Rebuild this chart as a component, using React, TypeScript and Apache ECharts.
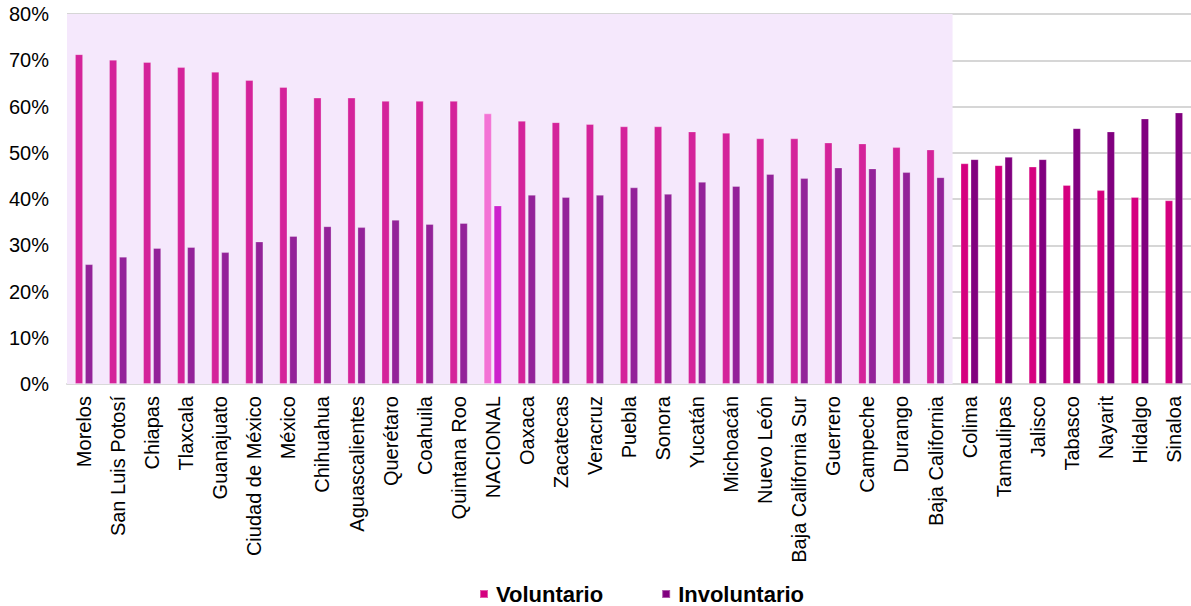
import React, { useEffect, useRef } from "react";
import * as echarts from "echarts";

const categories = [
  "Morelos", "San Luis Potosí", "Chiapas", "Tlaxcala", "Guanajuato", "Ciudad de México",
  "México", "Chihuahua", "Aguascalientes", "Querétaro", "Coahuila", "Quintana Roo",
  "NACIONAL", "Oaxaca", "Zacatecas", "Veracruz", "Puebla", "Sonora", "Yucatán",
  "Michoacán", "Nuevo León", "Baja California Sur", "Guerrero", "Campeche", "Durango",
  "Baja California", "Colima", "Tamaulipas", "Jalisco", "Tabasco", "Nayarit", "Hidalgo", "Sinaloa",
];

const voluntario = [
  71.3, 70.1, 69.6, 68.5, 67.5, 65.7, 64.2, 61.9, 61.9, 61.2, 61.2, 61.2,
  58.5, 56.9, 56.6, 56.2, 55.7, 55.7, 54.6, 54.3, 53.1, 53.1, 52.2, 52.0, 51.2,
  50.7, 47.7, 47.3, 47.0, 43.0, 41.9, 40.4, 39.7,
];

const involuntario = [
  25.9, 27.5, 29.4, 29.6, 28.5, 30.8, 32.0, 34.1, 33.9, 35.5, 34.6, 34.8,
  38.6, 40.9, 40.4, 40.9, 42.5, 41.1, 43.7, 42.8, 45.4, 44.5, 46.8, 46.6, 45.8,
  44.7, 48.6, 49.1, 48.6, 55.3, 54.6, 57.4, 58.7,
];

const yTicks = [0, 10, 20, 30, 40, 50, 60, 70, 80];
const shadedCount = 26;
const nationalName = "NACIONAL";

const colors = {
  volShaded: "#D4239A",
  invShaded: "#932299",
  volNational: "#F373D5",
  invNational: "#CC22CC",
  vol: "#D5007F",
  inv: "#81007F",
  shade: "#F5E8FC",
};

function volColor(i: number) {
  if (categories[i] === nationalName) return colors.volNational;
  return i < shadedCount ? colors.volShaded : colors.vol;
}
function invColor(i: number) {
  if (categories[i] === nationalName) return colors.invNational;
  return i < shadedCount ? colors.invShaded : colors.inv;
}

export default function App() {
  const ref = useRef<HTMLDivElement>(null);
  useEffect(() => {
    const chart = echarts.init(ref.current!, undefined, { renderer: "svg" });
    const font = "'Liberation Sans', Arial, sans-serif";
    chart.setOption({
      animation: false,
      backgroundColor: "#ffffff",
      textStyle: { fontFamily: font },
      grid: { left: 67, right: 0, top: 14, bottom: 222, containLabel: false },
      legend: {
        data: ["Voluntario", "Involuntario"],
        left: 474,
        top: 578,
        icon: "rect",
        itemWidth: 8,
        itemHeight: 8,
        itemGap: 58,
        textStyle: { fontSize: 22, fontWeight: "bold", color: "#000", fontFamily: font, padding: [0, 0, 0, 3] },
      },
      xAxis: [
        {
          type: "category",
          data: categories,
          axisLine: { show: true, lineStyle: { color: "#D9D9D9", width: 2 } },
          axisTick: { show: false },
          axisLabel: {
            rotate: 90,
            interval: 0,
            margin: 12,
            fontSize: 20,
            color: "#000",
            fontFamily: font,
          },
        },
        { type: "value", min: 0, max: categories.length, show: false },
      ],
      yAxis: {
        type: "value",
        min: yTicks[0],
        max: yTicks[yTicks.length - 1],
        interval: 10,
        axisLine: { show: false },
        axisTick: { show: false },
        axisLabel: { formatter: "{value}%", fontSize: 20, color: "#000", margin: 18, fontFamily: font },
        splitLine: { lineStyle: { color: "rgba(0,0,0,0.16)", width: 1.8 } },
      },
      series: [
        {
          name: "shade",
          type: "line",
          xAxisIndex: 1,
          data: [],
          z: -1,
          silent: true,
          markArea: {
            silent: true,
            itemStyle: { color: colors.shade },
            data: [[{ xAxis: 0 }, { xAxis: shadedCount }]],
          },
        },
        {
          name: "Voluntario",
          type: "bar",
          barWidth: 8,
          barGap: "25%",
          itemStyle: { color: colors.vol, borderColor: "rgba(255,255,255,0.35)", borderWidth: 0.8 },
          data: voluntario.map((v, i) => ({ value: v, itemStyle: { color: volColor(i) } })),
        },
        {
          name: "Involuntario",
          type: "bar",
          barWidth: 8,
          barGap: "25%",
          itemStyle: { color: colors.inv, borderColor: "rgba(255,255,255,0.35)", borderWidth: 0.8 },
          data: involuntario.map((v, i) => ({ value: v, itemStyle: { color: invColor(i) } })),
        },
      ],
    });
    return () => chart.dispose();
  }, []);
  return (
    <div
      ref={ref}
      style={{ position: "fixed", left: 0, top: 0, width: 1191, height: 606 }}
    />
  );
}
